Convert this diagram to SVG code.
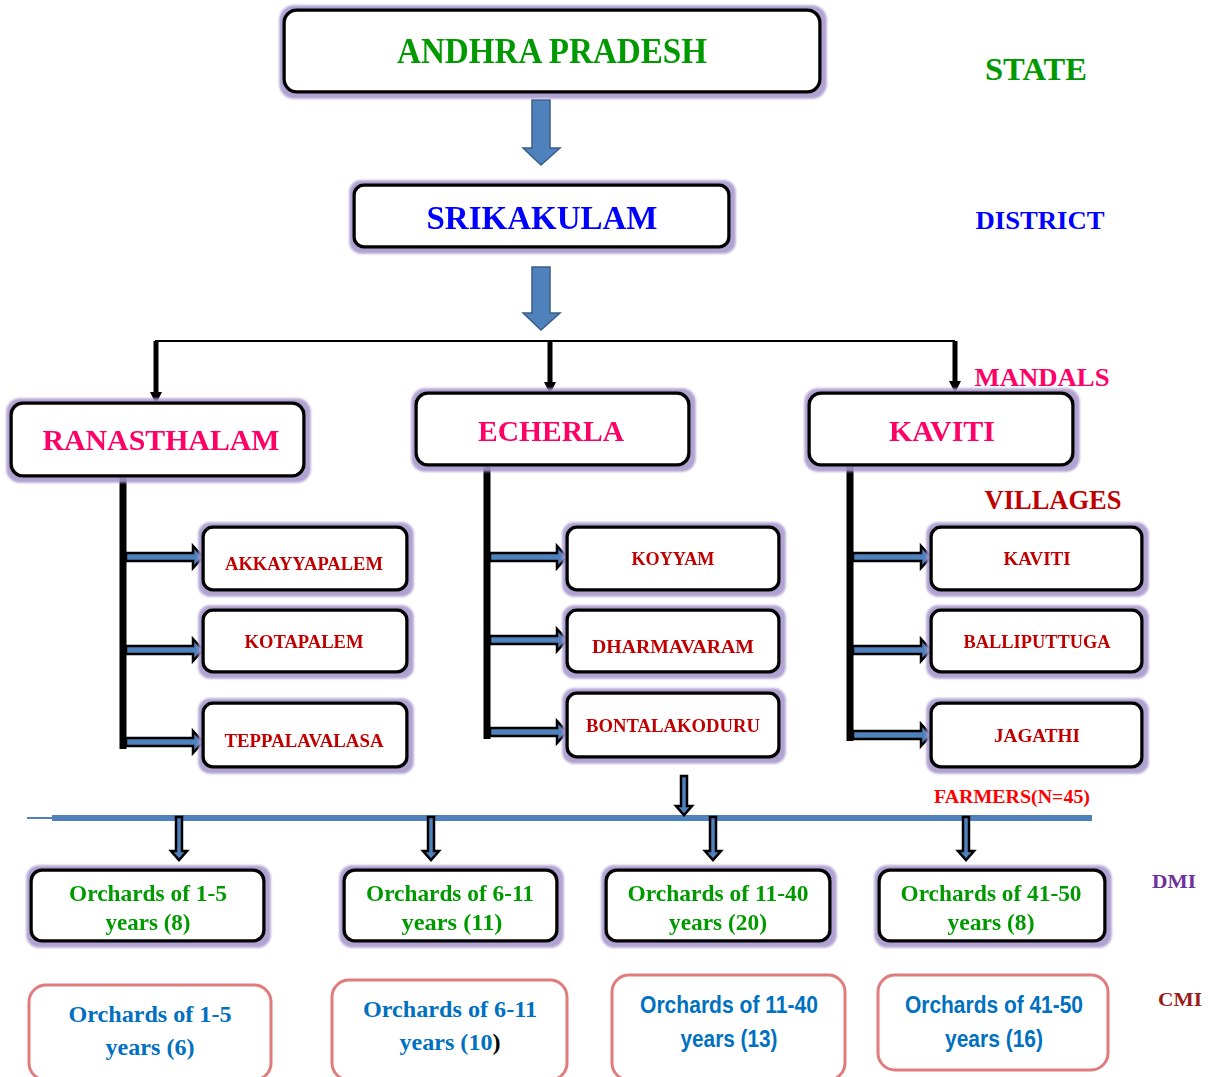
<svg xmlns="http://www.w3.org/2000/svg" width="1221" height="1077" viewBox="0 0 1221 1077">
<defs>
<filter id="glow" x="-10%" y="-20%" width="120%" height="140%">
<feMorphology in="SourceAlpha" operator="dilate" radius="4" result="d"/>
<feOffset in="d" dx="1" dy="1" result="o"/>
<feGaussianBlur in="o" stdDeviation="1" result="b"/>
<feFlood flood-color="#a898cc" flood-opacity="0.9"/>
<feComposite in2="b" operator="in" result="s"/>
<feMerge><feMergeNode in="s"/><feMergeNode in="SourceGraphic"/></feMerge>
</filter>
<marker id="tri" viewBox="0 0 10 10" refX="5" refY="5" markerWidth="3" markerHeight="2.4" orient="auto"><path d="M0,0 L10,5 L0,10 Z" fill="#000"/></marker>
</defs>
<style>
.box{fill:#fff;stroke:#000;stroke-width:3.5}
.cmi{fill:#fff;stroke:#e07c7c;stroke-width:3}
.t{font-family:"Liberation Serif","Times New Roman",serif;font-weight:bold;text-anchor:middle}
.s{font-family:"Liberation Sans",Arial,sans-serif;font-weight:bold;text-anchor:middle}
.vil{fill:#c00000;font-size:19px}
.mand{fill:#ff0066;font-size:30px}
.dmi{fill:#009900;font-size:24px}
.cmt{fill:#0070c0;font-size:23px}
.blk{fill:#4f81bd;stroke:#385d8a;stroke-width:1.5}
.sa{fill:#4f81bd;stroke:#000;stroke-width:2.5}
.trunk{stroke:#000;stroke-width:7;fill:none}
</style>

<g id="connectors">
<path class="blk" d="M532,100 H550 V148 H560 L541,165 L523,148 H532 Z"/>
<path class="blk" d="M532,267 H550 V313 H560 L541,330 L523,313 H532 Z"/>
<path d="M155,341 H955" stroke="#000" stroke-width="2" fill="none"/>
<path d="M156,341 V398" stroke="#000" stroke-width="5" marker-end="url(#tri)"/>
<path d="M550,341 V388" stroke="#000" stroke-width="5" marker-end="url(#tri)"/>
<path d="M955,341 V387" stroke="#000" stroke-width="5" marker-end="url(#tri)"/>
<path class="trunk" d="M123,476 V749"/>
<path class="trunk" d="M487,465 V739"/>
<path class="trunk" d="M850,465 V741"/>
<path class="sa" d="M126,553 H193 V546 L203,557 L193,568 V561 H126 Z"/>
<path class="sa" d="M126,646 H193 V639 L203,650 L193,661 V654 H126 Z"/>
<path class="sa" d="M126,738 H193 V731 L203,742 L193,753 V746 H126 Z"/>
<path class="sa" d="M490,553 H557 V546 L567,557 L557,568 V561 H490 Z"/>
<path class="sa" d="M490,636 H557 V629 L567,640 L557,651 V644 H490 Z"/>
<path class="sa" d="M490,728 H557 V721 L567,732 L557,743 V736 H490 Z"/>
<path class="sa" d="M853,553 H921 V546 L931,557 L921,568 V561 H853 Z"/>
<path class="sa" d="M853,646 H921 V639 L931,650 L921,661 V654 H853 Z"/>
<path class="sa" d="M853,731 H921 V724 L931,735 L921,746 V739 H853 Z"/>
<path d="M27,818 H52" stroke="#4f81bd" stroke-width="2"/>
<path d="M52,818 H1092" stroke="#4f81bd" stroke-width="6"/>
<path class="sa" d="M681,776 H687 V806 H692 L684,815 L676,806 H681 Z"/>
<path class="sa" d="M176,817 H182 V851 H187 L179,860 L171,851 H176 Z"/>
<path class="sa" d="M428,817 H434 V851 H439 L431,860 L423,851 H428 Z"/>
<path class="sa" d="M710,817 H716 V851 H721 L713,860 L705,851 H710 Z"/>
<path class="sa" d="M963,817 H969 V851 H974 L966,860 L958,851 H963 Z"/>
</g>

<g id="labels">
<text class="t" x="1036" y="80" font-size="31" fill="#009900" textLength="102" lengthAdjust="spacingAndGlyphs">STATE</text>
<text class="t" x="1040" y="229" font-size="26" fill="#0000ff" textLength="129" lengthAdjust="spacingAndGlyphs">DISTRICT</text>
<text class="t" x="1042" y="386" font-size="26" fill="#ff0066" textLength="135" lengthAdjust="spacingAndGlyphs">MANDALS</text>
<text class="t" x="1053" y="509" font-size="27" fill="#c00000" textLength="137" lengthAdjust="spacingAndGlyphs">VILLAGES</text>
<text class="t" x="1012" y="803" font-size="19" fill="#ff0000" textLength="156" lengthAdjust="spacingAndGlyphs">FARMERS(N=45)</text>
<text class="t" x="1174" y="888" font-size="19" fill="#7030a0" textLength="44" lengthAdjust="spacingAndGlyphs">DMI</text>
<text class="t" x="1180" y="1006" font-size="19" fill="#9b1c1c" textLength="44" lengthAdjust="spacingAndGlyphs">CMI</text>
</g>

<g id="andhra" filter="url(#glow)">
<rect class="box" x="284" y="10" width="536" height="82" rx="13"/>
<text class="t" x="552" y="63" font-size="35" fill="#009900" textLength="310" lengthAdjust="spacingAndGlyphs">ANDHRA PRADESH</text>
</g>
<g id="srikakulam" filter="url(#glow)">
<rect class="box" x="354" y="185" width="375" height="62" rx="10"/>
<text class="t" x="542" y="229" font-size="34" fill="#0000ff" textLength="231" lengthAdjust="spacingAndGlyphs">SRIKAKULAM</text>
</g>

<g id="ranasthalam" filter="url(#glow)">
<rect class="box" x="11" y="403" width="293" height="73" rx="12"/>
<text class="t mand" x="161" y="450" textLength="237" lengthAdjust="spacingAndGlyphs">RANASTHALAM</text>
</g>
<g id="echerla" filter="url(#glow)">
<rect class="box" x="416" y="393" width="273" height="72" rx="12"/>
<text class="t mand" x="551" y="441" textLength="146" lengthAdjust="spacingAndGlyphs">ECHERLA</text>
</g>
<g id="kaviti" filter="url(#glow)">
<rect class="box" x="809" y="393" width="264" height="72" rx="12"/>
<text class="t mand" x="942" y="441" textLength="106" lengthAdjust="spacingAndGlyphs">KAVITI</text>
</g>

<g id="akkayyapalem" filter="url(#glow)">
<rect class="box" x="203" y="527" width="204" height="63" rx="10"/>
<text class="t vil" x="304" y="570" textLength="158" lengthAdjust="spacingAndGlyphs">AKKAYYAPALEM</text>
</g>
<g id="kotapalem" filter="url(#glow)">
<rect class="box" x="203" y="610" width="204" height="62" rx="10"/>
<text class="t vil" x="304" y="648" textLength="119" lengthAdjust="spacingAndGlyphs">KOTAPALEM</text>
</g>
<g id="teppalavalasa" filter="url(#glow)">
<rect class="box" x="203" y="703" width="204" height="64" rx="10"/>
<text class="t vil" x="304" y="747" textLength="159" lengthAdjust="spacingAndGlyphs">TEPPALAVALASA</text>
</g>

<g id="koyyam" filter="url(#glow)">
<rect class="box" x="567" y="527" width="212" height="63" rx="10"/>
<text class="t vil" x="673" y="565" textLength="83" lengthAdjust="spacingAndGlyphs">KOYYAM</text>
</g>
<g id="dharmavaram" filter="url(#glow)">
<rect class="box" x="567" y="610" width="212" height="62" rx="10"/>
<text class="t vil" x="673" y="653" textLength="162" lengthAdjust="spacingAndGlyphs">DHARMAVARAM</text>
</g>
<g id="bontalakoduru" filter="url(#glow)">
<rect class="box" x="567" y="693" width="212" height="64" rx="10"/>
<text class="t vil" x="673" y="732" textLength="174" lengthAdjust="spacingAndGlyphs">BONTALAKODURU</text>
</g>

<g id="kaviti-village" filter="url(#glow)">
<rect class="box" x="931" y="527" width="211" height="63" rx="10"/>
<text class="t vil" x="1037" y="565" textLength="67" lengthAdjust="spacingAndGlyphs">KAVITI</text>
</g>
<g id="balliputtuga" filter="url(#glow)">
<rect class="box" x="931" y="610" width="211" height="62" rx="10"/>
<text class="t vil" x="1037" y="648" textLength="147" lengthAdjust="spacingAndGlyphs">BALLIPUTTUGA</text>
</g>
<g id="jagathi" filter="url(#glow)">
<rect class="box" x="931" y="703" width="211" height="64" rx="10"/>
<text class="t vil" x="1037" y="742" textLength="86" lengthAdjust="spacingAndGlyphs">JAGATHI</text>
</g>

<g id="dmi1" filter="url(#glow)">
<rect class="box" x="31" y="870" width="233" height="71" rx="11"/>
<text class="t dmi" x="148" y="901" textLength="158" lengthAdjust="spacingAndGlyphs">Orchards of 1-5</text>
<text class="t dmi" x="148" y="930" textLength="85" lengthAdjust="spacingAndGlyphs">years (8)</text>
</g>
<g id="dmi2" filter="url(#glow)">
<rect class="box" x="344" y="870" width="213" height="71" rx="11"/>
<text class="t dmi" x="450" y="901" textLength="168" lengthAdjust="spacingAndGlyphs">Orchards of 6-11</text>
<text class="t dmi" x="452" y="930" textLength="101" lengthAdjust="spacingAndGlyphs">years (11)</text>
</g>
<g id="dmi3" filter="url(#glow)">
<rect class="box" x="606" y="870" width="224" height="71" rx="11"/>
<text class="t dmi" x="718" y="901" textLength="181" lengthAdjust="spacingAndGlyphs">Orchards of 11-40</text>
<text class="t dmi" x="718" y="930" textLength="98" lengthAdjust="spacingAndGlyphs">years (20)</text>
</g>
<g id="dmi4" filter="url(#glow)">
<rect class="box" x="879" y="870" width="226" height="71" rx="11"/>
<text class="t dmi" x="991" y="901" textLength="181" lengthAdjust="spacingAndGlyphs">Orchards of 41-50</text>
<text class="t dmi" x="991" y="930" textLength="87" lengthAdjust="spacingAndGlyphs">years (8)</text>
</g>

<g id="cmi1">
<rect class="cmi" x="29" y="985" width="242" height="95" rx="17"/>
<text class="t cmt" x="150" y="1022" textLength="163" lengthAdjust="spacingAndGlyphs">Orchards of 1-5</text>
<text class="t cmt" x="150" y="1055" textLength="89" lengthAdjust="spacingAndGlyphs">years (6)</text>
</g>
<g id="cmi2">
<rect class="cmi" x="332" y="980" width="235" height="100" rx="17"/>
<text class="t cmt" x="450" y="1017" textLength="174" lengthAdjust="spacingAndGlyphs">Orchards of 6-11</text>
<text class="t cmt" x="450" y="1050" textLength="101" lengthAdjust="spacingAndGlyphs">years (10<tspan fill="#000">)</tspan></text>
</g>
<g id="cmi3">
<rect class="cmi" x="612" y="975" width="233" height="105" rx="17"/>
<text class="s cmt" x="729" y="1013" textLength="178" lengthAdjust="spacingAndGlyphs">Orchards of 11-40</text>
<text class="s cmt" x="729" y="1047" textLength="97" lengthAdjust="spacingAndGlyphs">years (13)</text>
</g>
<g id="cmi4">
<rect class="cmi" x="878" y="975" width="230" height="95" rx="17"/>
<text class="s cmt" x="994" y="1013" textLength="178" lengthAdjust="spacingAndGlyphs">Orchards of 41-50</text>
<text class="s cmt" x="994" y="1047" textLength="98" lengthAdjust="spacingAndGlyphs">years (16)</text>
</g>
</svg>
